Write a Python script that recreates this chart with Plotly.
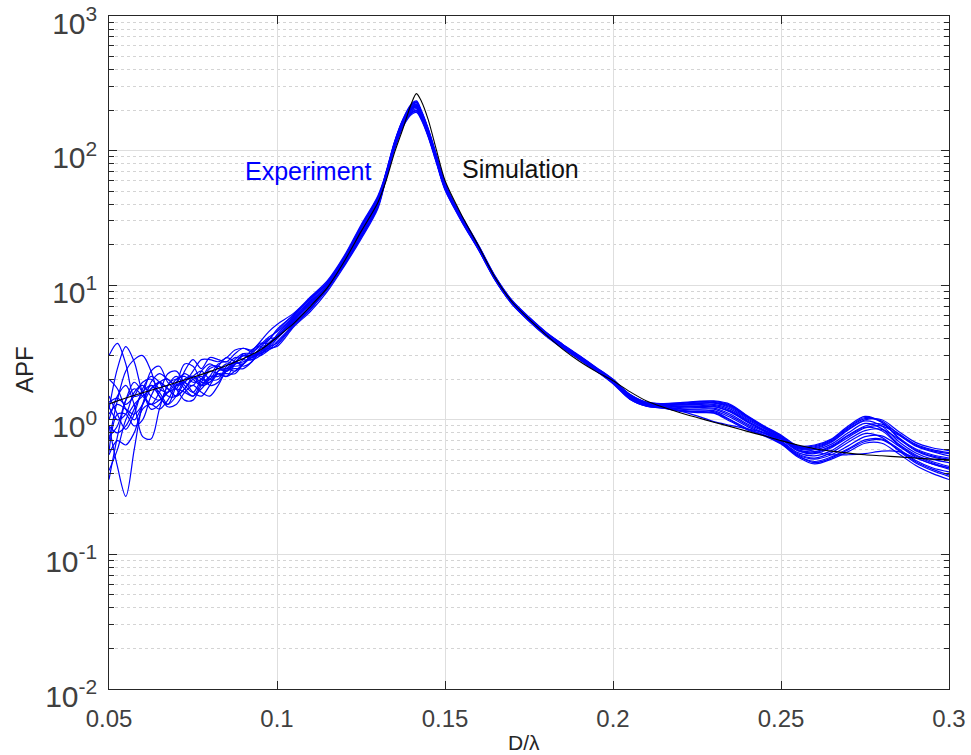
import plotly.graph_objects as go

# Normalised frequency D/lambda shared by all measured runs
D_LAMBDA = [
    0.05, 0.0525, 0.055, 0.0575, 0.06, 0.0625, 0.065, 0.0675, 0.07, 0.0725,
    0.075, 0.0775, 0.08, 0.0825, 0.085, 0.0875, 0.09, 0.0925, 0.095, 0.0975, 0.1,
    0.105, 0.11, 0.115, 0.12, 0.125, 0.13,
    0.1325, 0.135, 0.1375, 0.14, 0.1415, 0.143, 0.145, 0.1475, 0.15,
    0.155, 0.16, 0.165, 0.17, 0.175, 0.18, 0.185, 0.19, 0.195, 0.2,
    0.205, 0.21, 0.215, 0.22, 0.225, 0.23, 0.235, 0.24, 0.245, 0.25,
    0.255, 0.26, 0.265, 0.27, 0.275, 0.28, 0.285, 0.29, 0.295, 0.3,
]

# Simulated amplitude response
SIM_D = [
    0.05, 0.055, 0.06, 0.065, 0.07, 0.075, 0.08, 0.085, 0.09, 0.095, 0.1,
    0.105, 0.11, 0.115, 0.12, 0.125, 0.13, 0.1325, 0.135, 0.1375, 0.14,
    0.1415, 0.143, 0.145, 0.1475, 0.15, 0.155, 0.16, 0.165, 0.17, 0.175,
    0.18, 0.185, 0.19, 0.195, 0.2, 0.205, 0.21, 0.215, 0.22, 0.225, 0.23,
    0.235, 0.24, 0.245, 0.25, 0.255, 0.26, 0.265, 0.27, 0.275, 0.28, 0.285,
    0.29, 0.295, 0.3,
]
SIM_APF = [
    1.31, 1.45, 1.59, 1.73, 1.89, 2.07, 2.28, 2.53, 2.85, 3.30, 4.1,
    5.2, 7.0, 9.6, 15.0, 25, 41, 60, 97, 146, 224,
    265, 232, 170, 100, 60, 33, 19.5, 11.3, 7.5, 5.6,
    4.3, 3.35, 2.72, 2.28, 1.95, 1.62, 1.38, 1.24, 1.13, 1.04, 0.96,
    0.89, 0.82, 0.76, 0.70, 0.65, 0.61, 0.585, 0.565, 0.55, 0.54, 0.53,
    0.52, 0.51, 0.505,
]

# Measured runs (APF), one list per run, sampled at D_LAMBDA
EXP_01 = [3.0, 3.7, 2.6, 1.5, 1.6, 2.3, 2.5, 1.9, 1.7, 2.3, 2.8, 2.4, 2.9, 2.8, 2.7, 3.1, 3.4, 3.2, 3.6, 4.1, 4.5,
          5.9, 8.1, 10.4, 16.0, 26.8, 44,
          69, 116, 170, 218, 230, 195, 144, 91, 57,
          31.3, 19.2, 11.3, 7.5, 5.64, 4.38, 3.55, 2.92, 2.39, 1.94,
          1.54, 1.35, 1.32, 1.33, 1.36, 1.37, 1.28, 1.06, 0.89, 0.76, 0.63, 0.64, 0.71, 0.88, 1.04, 0.96, 0.74, 0.61, 0.55, 0.52]
EXP_02 = [1.2, 2.4, 3.5, 2.7, 1.6, 1.3, 1.6, 2.2, 2.3, 1.9, 1.8, 2.3, 2.6, 2.4, 2.3, 2.8, 3.1, 2.9, 3.2, 3.9, 4.6,
          6.1, 8.0, 10.6, 16.2, 27.4, 45,
          67.6, 113, 165, 211, 221, 189, 140, 88.4, 55.9,
          31.9, 19.5, 11.44, 7.6, 5.72, 4.44, 3.6, 2.96, 2.42, 1.97,
          1.53, 1.34, 1.31, 1.31, 1.33, 1.34, 1.25, 1.04, 0.88, 0.75, 0.62, 0.62, 0.69, 0.85, 1.00, 1.0, 0.82, 0.68, 0.62, 0.59]
EXP_03 = [0.7, 1.4, 2.3, 2.8, 3.0, 2.3, 1.5, 1.3, 1.8, 2.6, 2.5, 2.0, 2.0, 2.5, 2.9, 2.7, 2.6, 3.2, 3.7, 3.7, 4.2,
          5.7, 7.5, 10.1, 15.4, 25.6, 42,
          70, 117, 172, 222, 234, 198, 146, 92, 58,
          31.0, 19.0, 11.2, 7.45, 5.6, 4.35, 3.53, 2.9, 2.38, 1.93,
          1.51, 1.32, 1.29, 1.29, 1.30, 1.30, 1.20, 1.00, 0.86, 0.74, 0.61, 0.60, 0.66, 0.80, 0.94, 0.86, 0.66, 0.55, 0.49, 0.45]
EXP_04 = [0.9, 0.45, 0.27, 0.6, 1.3, 1.8, 1.6, 1.3, 1.5, 2.0, 2.1, 1.8, 1.9, 2.3, 2.4, 2.3, 2.6, 3.0, 3.1, 3.4, 4.0,
          5.3, 6.9, 9.5, 14.6, 23.8, 40,
          66, 110, 161, 203.5, 213, 183, 136, 86, 54.5,
          30.4, 18.7, 11.04, 7.35, 5.52, 4.29, 3.48, 2.86, 2.35, 1.9,
          1.43, 1.27, 1.23, 1.18, 1.15, 1.15, 1.00, 0.86, 0.77, 0.67, 0.54, 0.49, 0.53, 0.61, 0.71, 0.72, 0.61, 0.50, 0.44, 0.41]
EXP_05 = [1.0, 1.5, 1.8, 1.3, 0.75, 0.72, 1.2, 1.8, 2.0, 1.7, 1.5, 1.9, 2.3, 2.2, 2.1, 2.6, 3.0, 2.8, 3.0, 3.7, 4.2,
          5.55, 7.3, 9.9, 15.1, 25, 41.5,
          64.4, 107, 157, 196, 205, 177, 132, 83.6, 53.1,
          32.2, 19.6, 11.52, 7.65, 5.76, 4.47, 3.63, 2.98, 2.44, 1.99,
          1.50, 1.31, 1.28, 1.27, 1.27, 1.28, 1.17, 0.98, 0.84, 0.73, 0.60, 0.58, 0.64, 0.77, 0.90, 0.93, 0.79, 0.66, 0.60, 0.57]
EXP_06 = [0.36, 0.75, 1.4, 1.9, 1.6, 1.2, 1.3, 1.8, 2.1, 1.8, 1.6, 2.0, 2.5, 2.5, 2.3, 2.6, 3.1, 3.1, 3.1, 3.5, 4.3,
          5.8, 7.7, 10.3, 15.7, 26.2, 43,
          66.8, 111, 163, 207, 217, 186, 138, 87.2, 55.2,
          30.7, 18.8, 11.12, 7.4, 5.56, 4.32, 3.5, 2.88, 2.36, 1.91,
          1.47, 1.30, 1.26, 1.23, 1.23, 1.22, 1.10, 0.93, 0.82, 0.70, 0.57, 0.54, 0.59, 0.71, 0.83, 0.85, 0.72, 0.59, 0.53, 0.50]
EXP_07 = [0.42, 0.6, 1.0, 1.3, 1.5, 1.7, 1.9, 1.7, 1.5, 1.7, 2.1, 2.3, 2.0, 2.0, 2.5, 2.9, 2.8, 2.8, 3.4, 4.0, 4.1,
          5.4, 7.6, 9.7, 14.9, 24.4, 40.6,
          68.4, 114, 168, 215, 226, 192, 142, 89.6, 56.6,
          31.6, 19.3, 11.36, 7.55, 5.68, 4.41, 3.58, 2.94, 2.41, 1.96,
          1.46, 1.29, 1.25, 1.21, 1.20, 1.20, 1.07, 0.91, 0.80, 0.69, 0.56, 0.52, 0.57, 0.68, 0.79, 0.74, 0.59, 0.48, 0.42, 0.38]
EXP_08 = [0.58, 1.1, 1.1, 0.9, 1.0, 1.5, 1.9, 2.0, 1.7, 1.4, 1.4, 1.8, 2.1, 2.1, 2.3, 2.6, 2.7, 2.9, 3.4, 3.5, 3.7,
          5.15, 6.8, 9.4, 14.3, 23.2, 38.8,
          63.6, 106, 154, 192, 200, 174, 130, 82.4, 52.4,
          30.1, 18.5, 10.96, 7.3, 5.48, 4.26, 3.45, 2.84, 2.33, 1.88,
          1.49, 1.31, 1.27, 1.25, 1.25, 1.25, 1.14, 0.96, 0.83, 0.72, 0.59, 0.56, 0.62, 0.74, 0.87, 0.90, 0.77, 0.64, 0.58, 0.54]
EXP_09 = [0.75, 0.9, 1.4, 1.7, 1.5, 1.3, 1.4, 1.6, 1.7, 1.6, 1.5, 1.7, 2.0, 2.2, 2.1, 2.3, 2.6, 2.9, 3.1, 3.3, 3.6,
          5.0, 6.6, 9.6, 14.1, 22.6, 37.9,
          65.2, 109, 159, 200, 209, 180, 134, 84.8, 53.8,
          29.8, 18.4, 10.88, 7.25, 5.44, 4.23, 3.43, 2.82, 2.32, 1.87,
          1.45, 1.28, 1.24, 1.20, 1.18, 1.17, 1.04, 0.89, 0.79, 0.68, 0.55, 0.51, 0.55, 0.64, 0.75, 0.76, 0.64, 0.53, 0.47, 0.43]
EXP_10 = [0.9, 0.8, 0.9, 1.2, 1.6, 1.8, 1.5, 1.25, 1.3, 1.6, 1.8, 1.6, 1.5, 1.8, 2.3, 2.4, 2.4, 2.7, 3.2, 3.4, 3.5,
          4.9, 6.4, 9.0, 13.8, 22, 37,
          62.8, 104, 152, 189, 196, 171, 128, 81.2, 51.7,
          29.5, 18.2, 10.8, 7.2, 5.4, 4.2, 3.4, 2.8, 2.3, 1.85,
          1.42, 1.26, 1.22, 1.16, 1.13, 1.12, 0.97, 0.84, 0.76, 0.66, 0.53, 0.47, 0.51, 0.58, 0.67, 0.67, 0.56, 0.46, 0.40, 0.36]
EXP_11 = [1.1, 1.3, 1.2, 1.1, 1.3, 1.7, 1.9, 1.7, 1.5, 1.7, 2.0, 2.1, 1.8, 1.9, 2.4, 2.7, 2.5, 2.7, 3.2, 3.7, 4.2,
          5.35, 7.0, 9.6, 14.7, 24.1, 40.2,
          67.2, 112, 164, 209, 219, 187.5, 139, 87.8, 55.6,
          31.15, 19.1, 11.24, 7.48, 5.62, 4.37, 3.54, 2.91, 2.38, 1.93,
          1.52, 1.33, 1.30, 1.30, 1.32, 1.33, 1.23, 1.02, 0.87, 0.75, 0.62, 0.61, 0.68, 0.84, 0.98, 0.90, 0.69, 0.57, 0.51, 0.48]
EXP_12 = [1.35, 1.45, 1.3, 1.5, 1.9, 2.0, 1.7, 1.6, 1.9, 2.2, 2.0, 1.8, 2.1, 2.6, 2.7, 2.6, 2.8, 3.3, 3.6, 3.9, 4.7,
          6.0, 7.9, 10.5, 16.1, 27.1, 44.6,
          63.2, 105, 153, 191, 198, 172.5, 129, 81.8, 52,
          32.5, 19.8, 11.6, 7.7, 5.8, 4.5, 3.65, 3.0, 2.45, 2.0,
          1.54, 1.34, 1.31, 1.32, 1.35, 1.35, 1.27, 1.05, 0.89, 0.76, 0.63, 0.63, 0.70, 0.87, 1.02, 0.98, 0.78, 0.65, 0.59, 0.56]
EXP_13 = [2.0, 1.7, 1.2, 1.0, 1.3, 1.9, 2.2, 2.0, 1.8, 1.9, 2.3, 2.8, 2.8, 2.7, 2.9, 3.3, 3.4, 3.3, 3.8, 4.5, 5.1,
          6.2, 8.2, 10.8, 16.5, 28, 46,
          68.8, 115, 169, 216.5, 228, 193.5, 143, 90.2, 57,
          31.75, 19.4, 11.4, 7.58, 5.7, 4.43, 3.59, 2.95, 2.41, 1.96,
          1.55, 1.35, 1.32, 1.34, 1.37, 1.38, 1.30, 1.07, 0.90, 0.77, 0.64, 0.65, 0.72, 0.90, 1.06, 0.96, 0.73, 0.60, 0.54, 0.51]
EXP_14 = [1.5, 1.1, 0.85, 1.1, 1.7, 2.1, 1.9, 1.5, 1.5, 1.9, 2.1, 1.9, 1.9, 2.3, 2.6, 2.5, 2.6, 3.1, 3.5, 3.6, 4.1,
          5.6, 7.4, 10.0, 15.3, 25.3, 42,
          65.6, 109.3, 160, 201.7, 211, 181.5, 135, 85.4, 54.2,
          30.55, 18.8, 11.08, 7.38, 5.54, 4.3, 3.49, 2.87, 2.35, 1.9,
          1.49, 1.31, 1.28, 1.26, 1.26, 1.26, 1.15, 0.97, 0.84, 0.72, 0.59, 0.57, 0.63, 0.76, 0.88, 0.83, 0.65, 0.54, 0.48, 0.44]
EXP_15 = [0.55, 0.7, 0.65, 0.8, 1.2, 1.3, 1.2, 1.4, 1.8, 1.9, 1.6, 1.5, 1.8, 2.2, 2.2, 2.2, 2.6, 3.0, 3.0, 3.3, 3.8,
          5.1, 6.7, 9.3, 14.2, 22.9, 38.4,
          62, 103, 150, 185, 192, 168, 126, 80, 51,
          29.95, 18.4, 10.92, 7.28, 5.46, 4.25, 3.44, 2.83, 2.32, 1.87,
          1.43, 1.26, 1.23, 1.17, 1.14, 1.13, 0.99, 0.85, 0.77, 0.67, 0.54, 0.48, 0.52, 0.60, 0.69, 0.71, 0.60, 0.49, 0.43, 0.39]
EXP_16 = [1.25, 1.0, 1.1, 1.6, 1.8, 1.5, 1.4, 1.6, 2.0, 2.1, 1.9, 2.0, 2.4, 2.5, 2.4, 2.7, 3.0, 3.0, 3.2, 3.6, 4.1,
          5.5, 7.2, 9.8, 15.0, 24.7, 41,
          66.4, 110.7, 162, 205.4, 215, 184.5, 137, 86.6, 54.9,
          30.85, 18.9, 11.16, 7.43, 5.58, 4.34, 3.51, 2.89, 2.37, 1.92,
          1.45, 1.28, 1.22, 1.16, 1.07, 0.97, 0.91, 0.855, 0.80, 0.72, 0.64, 0.58, 0.55, 0.55, 0.56, 0.585, 0.58, 0.52, 0.47, 0.44]

EXPERIMENT_RUNS = [EXP_01, EXP_02, EXP_03, EXP_04, EXP_05, EXP_06, EXP_07, EXP_08,
                   EXP_09, EXP_10, EXP_11, EXP_12, EXP_13, EXP_14, EXP_15, EXP_16]

X_TICKS = [0.05, 0.1, 0.15, 0.2, 0.25, 0.3]
X_TICK_TEXT = ["0.05", "0.1", "0.15", "0.2", "0.25", "0.3"]

FONT = "Liberation Sans, Arial, Helvetica, sans-serif"
AXIS_COLOR = "#262626"
TICK_TEXT_COLOR = "#404040"

fig = go.Figure()

for run in EXPERIMENT_RUNS:
    fig.add_trace(go.Scatter(
        x=D_LAMBDA, y=run, mode="lines",
        line=dict(color="#0000ff", width=1.2, shape="spline", smoothing=0.9),
        showlegend=False, hoverinfo="skip",
    ))

fig.add_trace(go.Scatter(
    x=SIM_D, y=SIM_APF, mode="lines",
    line=dict(color="#000000", width=1.1, shape="spline", smoothing=0.8),
    showlegend=False,
))

fig.update_xaxes(
    range=[0.05, 0.3], automargin=False,
    tickmode="array", tickvals=X_TICKS, ticktext=X_TICK_TEXT,
    ticks="inside", ticklen=8, tickwidth=1, tickcolor=AXIS_COLOR,
    showline=True, linecolor=AXIS_COLOR, linewidth=1, mirror="allticks",
    showgrid=True, gridcolor="#dedede", gridwidth=1, zeroline=False,
    tickfont=dict(family=FONT, size=24, color=TICK_TEXT_COLOR),
    ticklabelstandoff=8, ticklabeloverflow="allow",
)

fig.update_yaxes(
    type="log", range=[-2, 3], dtick=1, exponentformat="power", automargin=False,
    labelalias={
        "1": "10<sup>0</sup>",
        "10": "10<sup>1</sup>",
        "10<sup>\u22121</sup>": "10<sup>-1</sup>",
        "10<sup>\u22122</sup>": "10<sup>-2</sup>",
    },
    ticks="inside", ticklen=8, tickwidth=1, tickcolor=AXIS_COLOR,
    showline=True, linecolor=AXIS_COLOR, linewidth=1, mirror="allticks",
    showgrid=True, gridcolor="#dedede", gridwidth=1, zeroline=False,
    tickfont=dict(family=FONT, size=24, color=TICK_TEXT_COLOR),
    ticklabelstandoff=6, ticklabelshift=7, ticklabeloverflow="allow",
    minor=dict(dtick="D1", ticks="inside", ticklen=5, tickwidth=1,
               tickcolor=AXIS_COLOR, showgrid=True, gridcolor="#d4d4d4",
               griddash="dot", gridwidth=1),
)

fig.add_annotation(x=0.1091, y=1.852, xref="x", yref="y", text="Experiment",
                   showarrow=False, xanchor="center", yanchor="middle",
                   font=dict(family=FONT, size=25, color="#0000ff"))
fig.add_annotation(x=0.1726, y=1.867, xref="x", yref="y", text="Simulation",
                   showarrow=False, xanchor="center", yanchor="middle",
                   font=dict(family=FONT, size=25, color="#111111"))

# Axis titles
fig.add_annotation(x=-0.1, y=0.474, xref="paper", yref="paper", text="APF",
                   textangle=-90, showarrow=False, xanchor="center", yanchor="middle",
                   font=dict(family=FONT, size=24, color=AXIS_COLOR))
fig.add_annotation(x=0.494, y=-0.0802, xref="paper", yref="paper", text="D/\u03bb",
                   showarrow=False, xanchor="center", yanchor="middle",
                   font=dict(family=FONT, size=21, color=AXIS_COLOR))

fig.update_layout(
    width=971, height=755,
    margin=dict(l=109, r=22, t=16, b=66, autoexpand=False),
    paper_bgcolor="#ffffff", plot_bgcolor="#ffffff",
    showlegend=False,
)

fig.write_html("out.html")
